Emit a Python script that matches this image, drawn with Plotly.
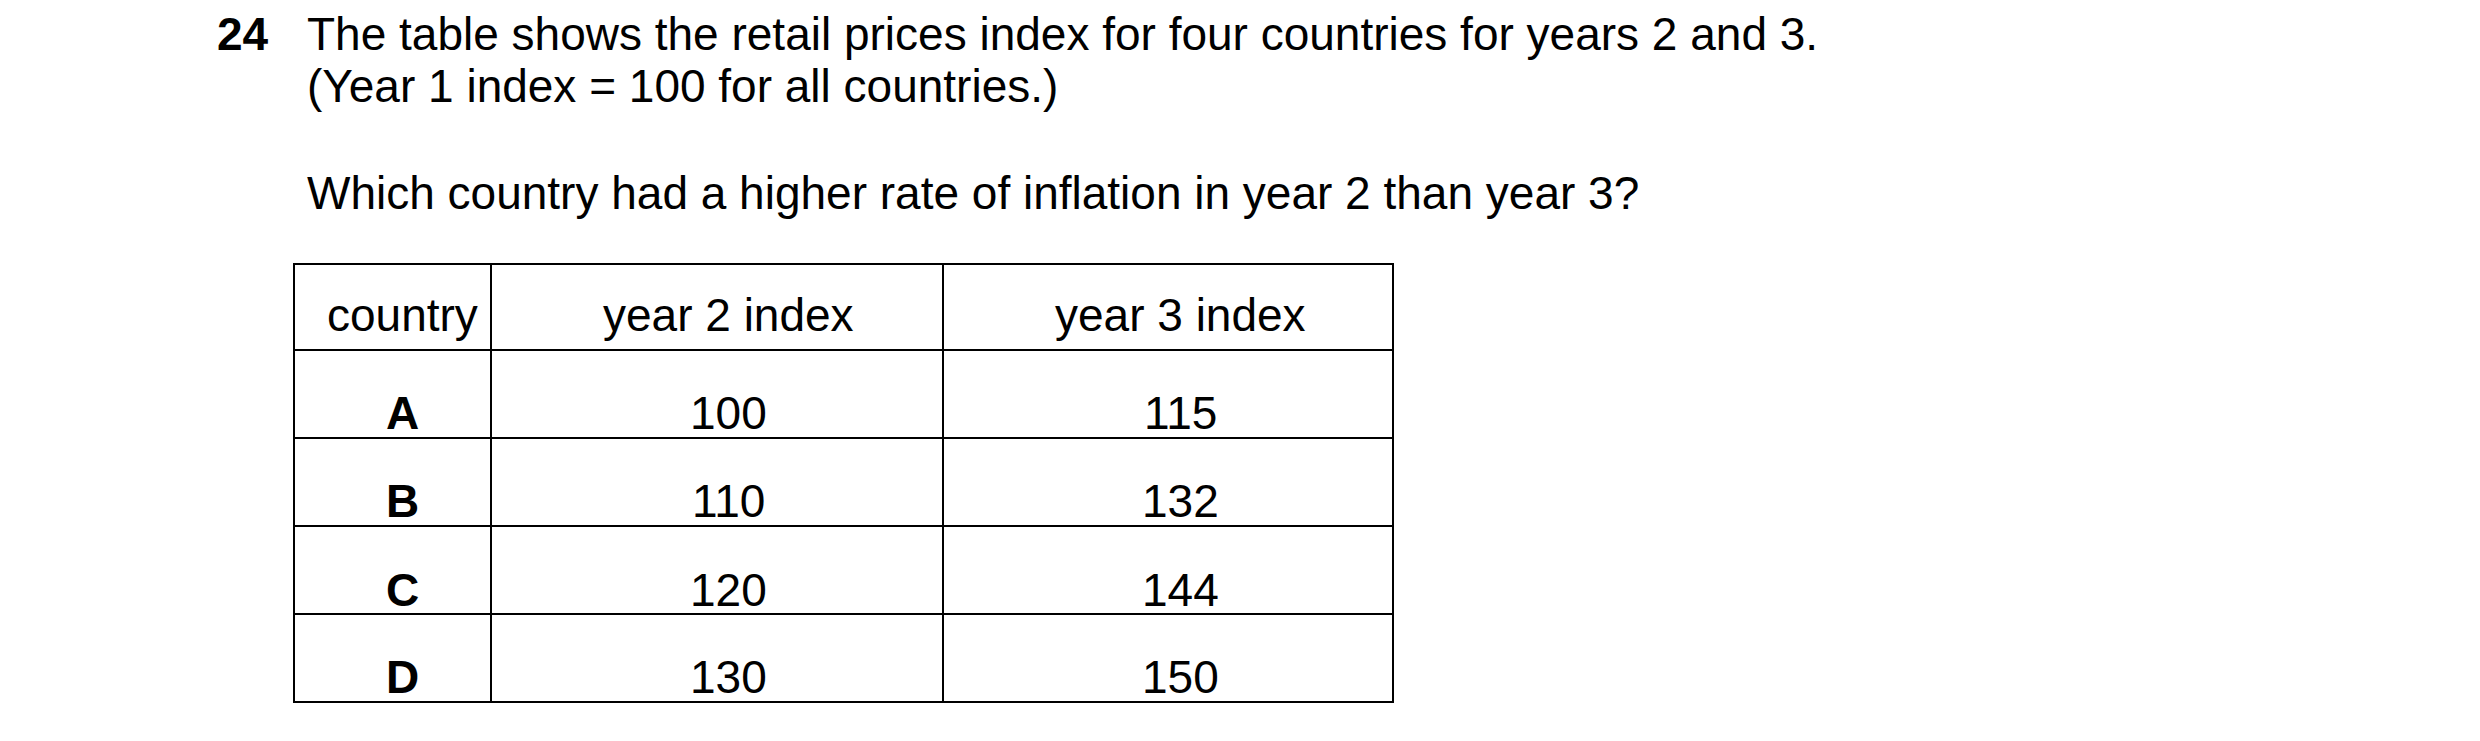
import plotly.graph_objects as go

# table data
headers = ["country", "year 2 index", "year 3 index"]
countries = ["A", "B", "C", "D"]
year2 = [100, 110, 120, 130]
year3 = [115, 132, 144, 150]

W, H = 2480, 741
FONT = "Liberation Sans, Arial, sans-serif"
SIZE = 46

# table grid only; text is placed centred in the cells below
fig = go.Figure(go.Table(
    columnwidth=[197, 453, 451],
    header=dict(values=["", "", ""], height=86,
                line=dict(color="black", width=2), fill_color="white"),
    cells=dict(values=[[""] * 4] * 3, height=88,
               line=dict(color="black", width=2), fill_color="white"),
    domain=dict(x=[286 / W, 1386 / W], y=[0, 1 - 256 / H]),
))

col_x = [394, 720, 1172]
head_y = 307
row_y = [405, 493, 582, 669]


def put(txt, x, y, anchor="center"):
    fig.add_annotation(text=txt, x=x / W, y=1 - y / H, xref="paper", yref="paper",
                       xanchor=anchor, yanchor="middle", showarrow=False,
                       font=dict(family=FONT, size=SIZE, color="black"))


for h, cx in zip(headers, col_x):
    put(h, cx, head_y)
for c, a, b, ry in zip(countries, year2, year3, row_y):
    put("<b>%s</b>" % c, col_x[0], ry)
    put(str(a), col_x[1], ry)
    put(str(b), col_x[2], ry)

put("<b>24</b>", 207, 26, "left")
put("The table shows the retail prices index for four countries for years 2 and 3.", 297, 26, "left")
put("(Year 1 index = 100 for all countries.)", 297, 78, "left")
put("Which country had a higher rate of inflation in year 2 than year 3?", 297, 185, "left")

fig.update_layout(width=W, height=H, margin=dict(l=0, r=0, t=0, b=0),
                  paper_bgcolor="white", plot_bgcolor="white")

fig.write_html("out.html")
